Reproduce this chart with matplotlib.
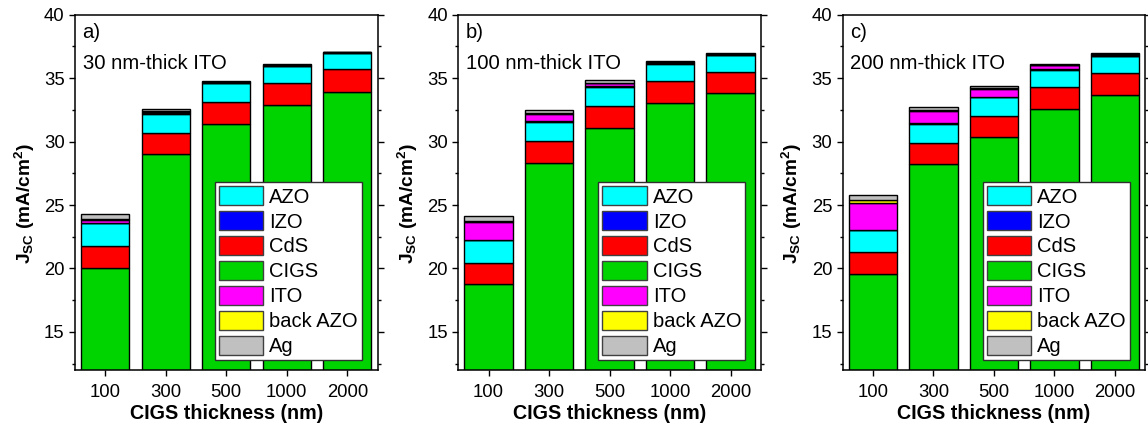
import matplotlib
matplotlib.use("Agg")
import matplotlib.pyplot as plt
from matplotlib.ticker import MultipleLocator
from matplotlib.patches import Patch
import numpy as np

plt.rcParams['font.family'] = ['Liberation Sans', 'DejaVu Sans']
plt.rcParams['mathtext.fontset'] = 'custom'
plt.rcParams['mathtext.rm'] = 'Liberation Sans'
plt.rcParams['mathtext.bf'] = 'Liberation Sans:bold'
plt.rcParams['mathtext.it'] = 'Liberation Sans:italic'

categories = ['100', '300', '500', '1000', '2000']
panel_labels = ['a)', 'b)', 'c)']
panel_titles = ['30 nm-thick ITO', '100 nm-thick ITO', '200 nm-thick ITO']

# Stack order (bottom to top): CIGS, CdS, AZO, IZO, ITO, back AZO, Ag
a_CIGS = [20.0, 29.0, 31.4, 32.9, 33.9]
a_CdS = [1.8, 1.7, 1.75, 1.7, 1.8]
a_AZO = [1.8, 1.5, 1.45, 1.35, 1.3]
a_IZO = [0.02, 0.05, 0.05, 0.03, 0.02]
a_ITO = [0.22, 0.1, 0.05, 0.03, 0.02]
a_backAZO = [0.03, 0.05, 0.03, 0.02, 0.01]
a_Ag = [0.4, 0.15, 0.07, 0.05, 0.02]

b_CIGS = [18.75, 28.35, 31.05, 33.05, 33.8]
b_CdS = [1.7, 1.7, 1.75, 1.75, 1.7]
b_AZO = [1.8, 1.5, 1.5, 1.35, 1.3]
b_IZO = [0.02, 0.05, 0.05, 0.05, 0.05]
b_ITO = [1.4, 0.55, 0.25, 0.08, 0.05]
b_backAZO = [0.1, 0.1, 0.05, 0.02, 0.02]
b_Ag = [0.4, 0.25, 0.2, 0.04, 0.03]

c_CIGS = [19.55, 28.2, 30.4, 32.55, 33.65]
c_CdS = [1.75, 1.7, 1.65, 1.72, 1.72]
c_AZO = [1.75, 1.5, 1.45, 1.4, 1.35]
c_IZO = [0.02, 0.05, 0.05, 0.03, 0.03]
c_ITO = [2.1, 0.95, 0.6, 0.3, 0.1]
c_backAZO = [0.2, 0.1, 0.1, 0.05, 0.05]
c_Ag = [0.4, 0.22, 0.1, 0.1, 0.05]

layer_names = ['CIGS', 'CdS', 'AZO', 'IZO', 'ITO', 'back AZO', 'Ag']
layer_colors = {'AZO': '#00FFFF', 'IZO': '#0000FF', 'CdS': '#FF0000',
                'CIGS': '#00D400', 'ITO': '#FF00FF', 'back AZO': '#FFFF00',
                'Ag': '#C0C0C0'}
legend_order = ['AZO', 'IZO', 'CdS', 'CIGS', 'ITO', 'back AZO', 'Ag']

panels = [
    [a_CIGS, a_CdS, a_AZO, a_IZO, a_ITO, a_backAZO, a_Ag],
    [b_CIGS, b_CdS, b_AZO, b_IZO, b_ITO, b_backAZO, b_Ag],
    [c_CIGS, c_CdS, c_AZO, c_IZO, c_ITO, c_backAZO, c_Ag],
]

W, H = 1148, 428
fig = plt.figure(figsize=(W / 100, H / 100), dpi=100)
lefts = [75, 458.3, 842.7]
ax_w = 302.5
top_px, bot_px = 14.7, 370

for i, layers in enumerate(panels):
    ax = fig.add_axes([lefts[i] / W, 1 - bot_px / H, ax_w / W, (bot_px - top_px) / H])
    x = np.arange(len(categories))
    bottom = np.zeros(len(categories))
    for name, vals in zip(layer_names, layers):
        ax.bar(x, vals, width=0.8, bottom=bottom, color=layer_colors[name],
               edgecolor='black', linewidth=1.0, zorder=2)
        bottom = bottom + np.array(vals)
    ax.set_xlim(-0.5, len(categories) - 0.5)
    ax.set_ylim(12, 40)
    ax.set_xticks(x)
    ax.set_xticklabels(categories, fontsize=13.3)
    ax.yaxis.set_major_locator(MultipleLocator(5))
    ax.yaxis.set_minor_locator(MultipleLocator(2.5))
    ax.tick_params(axis='y', which='both', direction='out', right=True, labelsize=13.3, width=1.0)
    ax.tick_params(axis='y', which='major', length=4)
    ax.tick_params(axis='y', which='minor', length=2.5)
    ax.tick_params(axis='x', which='major', direction='out', length=4, width=1.0,
                   labelsize=13.3, pad=6)
    for s in ax.spines.values():
        s.set_linewidth(1.1)
    ax.set_xlabel('CIGS thickness (nm)', fontsize=14.2, fontweight='bold', labelpad=2)
    ax.set_ylabel(r'$\mathbf{J_{SC}}$ (mA/cm$^{\mathbf{2}}$)', fontsize=13.8,
                  fontweight='bold')
    ax.yaxis.set_label_coords(-0.127, 0.47)
    ax.text(0.025, 0.951, panel_labels[i], transform=ax.transAxes, fontsize=14.6,
            va='center', ha='left')
    ax.text(0.025, 0.863, panel_titles[i], transform=ax.transAxes, fontsize=14.6,
            va='center', ha='left')
    handles = [Patch(facecolor=layer_colors[n], edgecolor='#404040', linewidth=1.0)
               for n in legend_order]
    leg = ax.legend(handles, legend_order, loc='upper left',
                    bbox_to_anchor=(140 / ax_w, 0.529), borderaxespad=0,
                    fontsize=14.5, handlelength=2.2, handleheight=1.1,
                    labelspacing=0.22, handletextpad=0.3, borderpad=0.2,
                    fancybox=False, framealpha=1, edgecolor='#303030')
    leg.get_frame().set_linewidth(1.0)
    leg.set_zorder(5)

fig.savefig('out.png', dpi=100)
